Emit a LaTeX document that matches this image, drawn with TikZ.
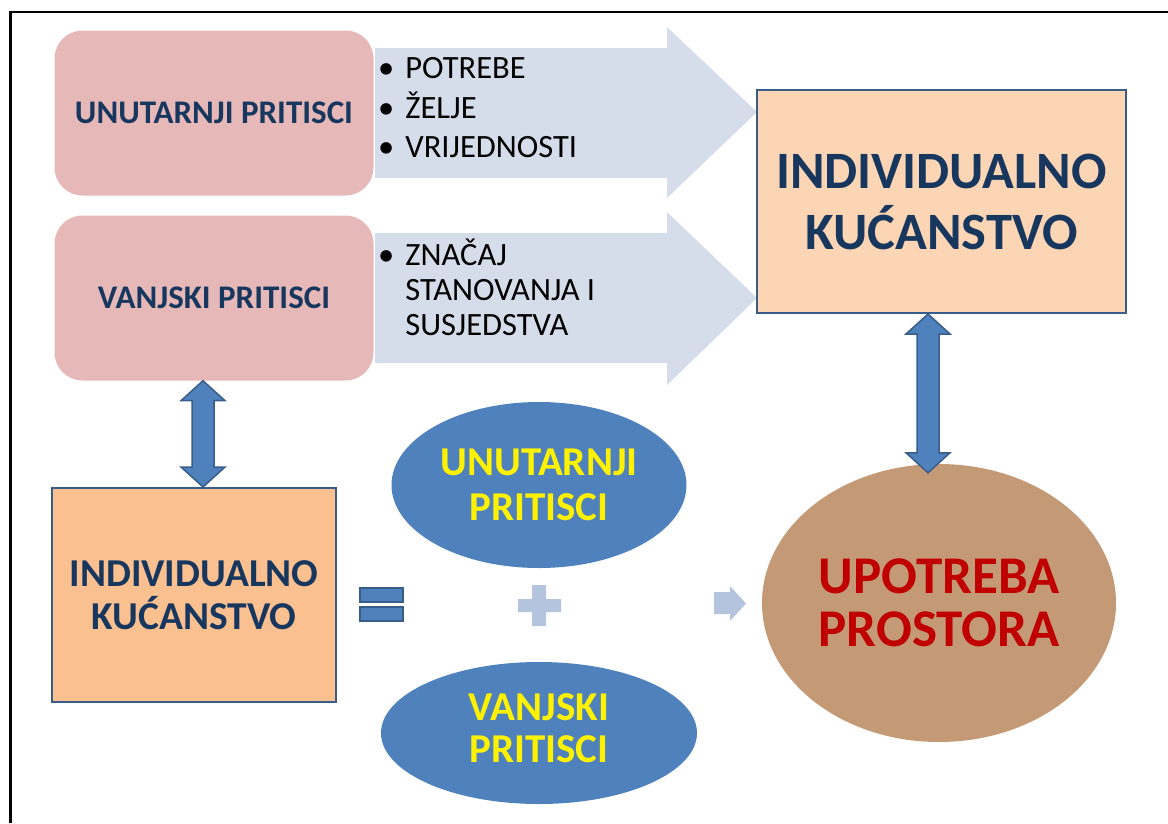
\documentclass[tikz,border=0pt]{standalone}
\usepackage{fontspec}
\setmainfont{Carlito}
\usetikzlibrary{shapes.geometric,calc}

\definecolor{boxpink}{HTML}{E6B9B8}
\definecolor{arrowgray}{HTML}{D5DCEA}
\definecolor{peach}{HTML}{FCD5B5}
\definecolor{orangebox}{HTML}{FAC090}
\definecolor{edgeblue}{HTML}{385D8A}
\definecolor{navy}{HTML}{17375E}
\definecolor{ellblue}{HTML}{4F81BD}
\definecolor{brownell}{HTML}{C49A76}
\definecolor{redtext}{HTML}{C00000}
\definecolor{signgray}{HTML}{B4C4DF}

\newcommand{\fs}[2]{\fontsize{#1}{#2}\selectfont}
% vertical two-headed arrow from #1 (top tip) to #2 (bottom tip)
\newcommand{\twoway}[2]{%
  \draw[dblarrow] let \p1=(#1), \p2=(#2) in
    (\x1,\y1) -- (\x1+22pt,\y1-20pt) -- (\x1+11pt,\y1-20pt) -- (\x1+11pt,\y2+20pt)
    -- (\x1+22pt,\y2+20pt) -- (\x1,\y2) -- (\x1-22pt,\y2+20pt) -- (\x1-11pt,\y2+20pt)
    -- (\x1-11pt,\y1-20pt) -- (\x1-22pt,\y1-20pt) -- cycle;}

\begin{document}
\begin{tikzpicture}[x=1pt,y=-1pt,
  press/.style={rectangle,rounded corners=28pt,fill=boxpink,minimum width=319pt,minimum height=165pt,inner sep=0pt,text=navy,font=\bfseries\fs{33}{38}},
  house/.style={rectangle,draw=edgeblue,line width=2pt,align=center,text=navy,inner sep=0pt},
  oval/.style={ellipse,fill=ellblue,inner sep=0pt,text=yellow,align=center,font=\bfseries\fs{41}{45}},
  bullets/.style={anchor=north west,inner sep=0pt,align=left},
  dblarrow/.style={fill=ellblue,draw=edgeblue,line width=1.5pt,line join=miter}]
\useasboundingbox (0,0) rectangle (1168,823);
\draw[line width=2.5pt] (10.5,823) -- (10.5,12) -- (1168,12);

% broad arrows behind the boxes
\fill[arrowgray] (375,48) -- (667,48) -- (667,27) -- (757,112) -- (667,198) -- (667,178) -- (375,178) -- cycle;
\fill[arrowgray] (375,233) -- (667,233) -- (667,212) -- (757,298) -- (667,385) -- (667,363) -- (375,363) -- cycle;

\node (inner) at (214,113) [press] {UNUTARNJI PRITISCI};
\node (outer) at (214,298) [press] {VANJSKI PRITISCI};

\node (needs) at (378,53) [bullets,font=\fs{32.5}{36}] {\begin{tabular}{@{}l@{\hspace{11pt}}l@{}}
  \textbullet & POTREBE\\[3pt] \textbullet & ŽELJE\\[3pt] \textbullet & VRIJEDNOSTI\end{tabular}};
\node (place) at (378,238.5) [bullets,font=\fs{32.5}{35}] {\begin{tabular}{@{}l@{\hspace{11pt}}l@{}}
  \textbullet & ZNAČAJ\\ & STANOVANJA I\\ & SUSJEDSTVA\end{tabular}};

\node (home) at (941.5,201.5) [house,fill=peach,minimum width=369pt,minimum height=223pt,font=\bfseries\fs{52.5}{61}] {INDIVIDUALNO\\KUĆANSTVO};
\node (household) at (194,595) [house,fill=orangebox,minimum width=284pt,minimum height=214pt,font=\bfseries\fs{39.5}{43}] {INDIVIDUALNO\\KUĆANSTVO};

\node (innerp) at (539,485) [oval,minimum width=295pt,minimum height=166pt] {UNUTARNJI\\PRITISCI};
\node (outerp) at (539,733) [oval,minimum width=316pt,minimum height=142pt] {\raisebox{12pt}{\fs{41}{42}\begin{tabular}{@{}c@{}}VANJSKI\\PRITISCI\end{tabular}}};
\node (use) at (939,603) [ellipse,fill=brownell,minimum width=354pt,minimum height=278pt,inner sep=0pt,text=redtext,align=center,font=\bfseries\fs{53}{53}] {UPOTREBA\\PROSTORA};

\coordinate (lx) at (203,0);
\coordinate (rx) at (928,0);
\twoway{outer.south -| lx}{household.north -| lx}
\twoway{home.south -| rx}{$(use.north -| rx)+(0,9)$}

% equals, plus, arrow
\draw[edgeblue,line width=2.5pt,fill=ellblue] (360,588) rectangle (403,602) (360,607) rectangle (403,621);
\fill[signgray] (532,585) rectangle (546,626) (518,599) rectangle (561,612);
\fill[signgray] (714,592) -- (730,592) -- (730,586) -- (746,603.5) -- (730,621) -- (730,614) -- (714,614) -- cycle;
\end{tikzpicture}
\end{document}
